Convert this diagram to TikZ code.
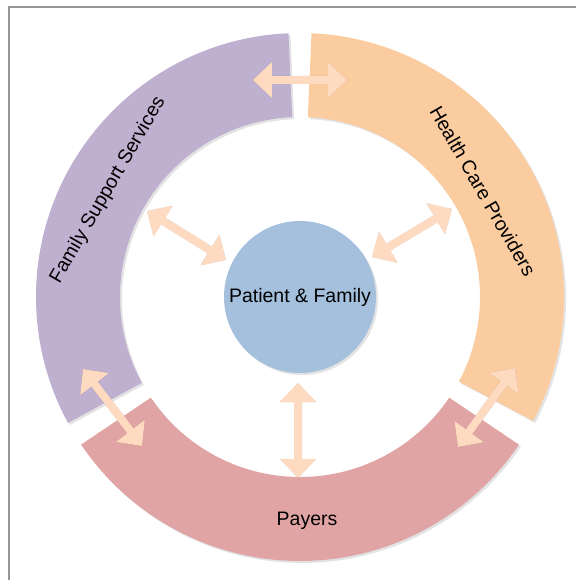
\documentclass[tikz,border=0pt]{standalone}
\usepackage{fontspec}
\setmainfont{Liberation Sans}
\usetikzlibrary{arrows.meta,shadows}

\definecolor{fssPurple}{RGB}{191,176,208}
\definecolor{hcpOrange}{RGB}{250,204,160}
\definecolor{payPink}{RGB}{224,164,164}
\definecolor{pfBlue}{RGB}{164,192,220}
\definecolor{linkPeach}{RGB}{253,218,192}
\definecolor{frameGray}{RGB}{150,150,150}

\tikzset{
  segment/.style={drop shadow={opacity=0.22,shadow xshift=2pt,shadow yshift=-2pt}},
  label/.style={font=\fontsize{19.5}{22}\selectfont,inner sep=0pt},
  link/.style={draw=linkPeach,line width=8pt,{Triangle[length=19pt,width=35pt]}-{Triangle[length=19pt,width=35pt]}},
  linkshadow/.style={draw=black,line width=8pt,{Triangle[length=19pt,width=35pt]}-{Triangle[length=19pt,width=35pt]}}
}

\begin{document}
\begin{tikzpicture}[x=1pt,y=1pt]
    \useasboundingbox (-300,-283) rectangle (276,297);
    \draw[frameGray,line width=2pt] (-291,-283) -- (-291,290) -- (276,290);

    % ring segments
    \fill[fssPurple,segment] (92.5:264) arc (92.5:208.5:264) -- (208.5:180) arc (208.5:92.5:180) -- cycle;
    \fill[payPink,segment] (214:264) arc (214:326:264) -- (326:180) arc (326:214:180) -- cycle;
    \fill[hcpOrange,segment] (-28:264) arc (-28:87.5:264) -- (87.5:180) arc (87.5:-28:180) -- cycle;

    \node[label,rotate=60] (fss) at (-192,107) {Family Support Services};
    \node[label,rotate=-60] (hcp) at (183,106) {Health Care Providers};
    \node[label] (pay) at (7,-224) {Payers};

    \node[shape=circle,fill=pfBlue,minimum size=152pt,inner sep=0pt,
          drop shadow={opacity=0.22,shadow xshift=2pt,shadow yshift=-2pt}] (pf) at (0,0) {};
    \node[label] at (pf.center) {Patient \& Family};

    \coordinate (topL) at (-47,217);
    \coordinate (topR) at (47,217);
    \coordinate (ulOut) at (-153,86);
    \coordinate (ulIn) at (-74,37);
    \coordinate (urOut) at (152,88);
    \coordinate (urIn) at (72,40);
    \coordinate (botIn) at (-2,-86);
    \coordinate (botOut) at (-2,-181);
    \coordinate (llUp) at (-217,-72);
    \coordinate (llDown) at (-158,-149);
    \coordinate (lrUp) at (215,-71);
    \coordinate (lrDown) at (158,-150);

    % shadows under the links
    \begin{scope}[transparency group,opacity=0.22,shift={(2,-2)}]
     \path [linkshadow] (topL) -- (topR);
     \path [linkshadow] (ulOut) -- (ulIn);
     \path [linkshadow] (urOut) -- (urIn);
     \path [linkshadow] (botIn) -- (botOut);
     \path [linkshadow] (llUp) -- (llDown);
     \path [linkshadow] (lrUp) -- (lrDown);
    \end{scope}

     \path [link] (topL) -- (topR);
     \path [link] (ulOut) -- (ulIn);
     \path [link] (urOut) -- (urIn);
     \path [link] (botIn) -- (botOut);
     \path [link] (llUp) -- (llDown);
     \path [link] (lrUp) -- (lrDown);
\end{tikzpicture}
\end{document}
